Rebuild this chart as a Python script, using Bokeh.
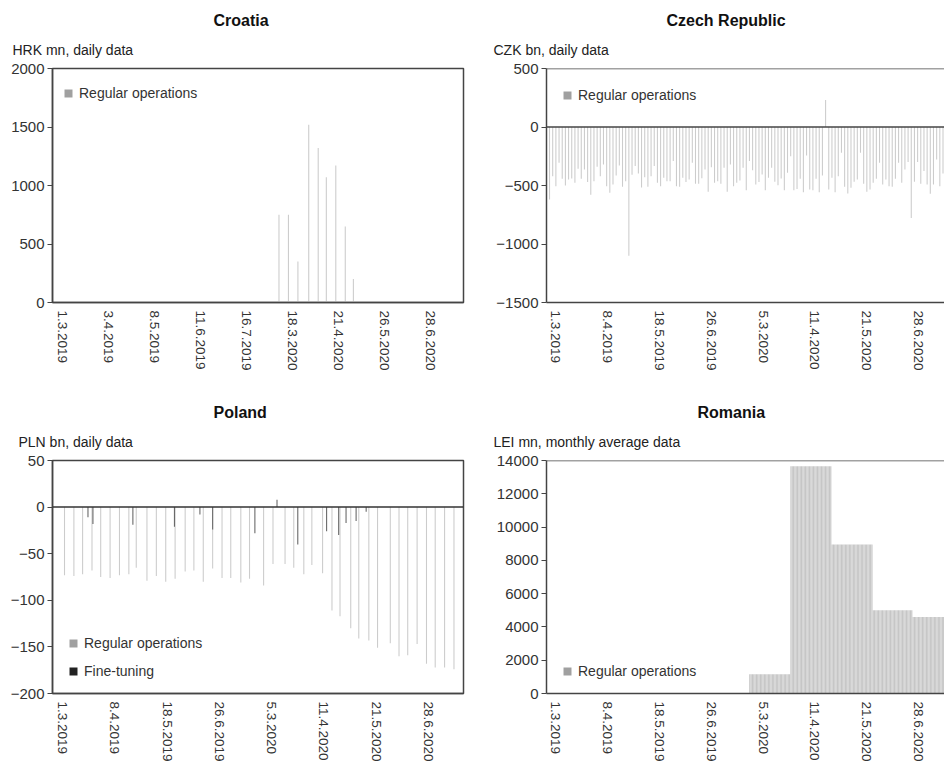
import numpy as np
from bokeh.plotting import figure
from bokeh.models import Range1d, FixedTicker, Span, Legend, LegendItem, Title
from bokeh.layouts import column, row
from bokeh.embed import file_html
from bokeh.resources import INLINE

FONT = "Liberation Sans"

# ---------------- data ----------------
# Croatia (HRK mn, daily data)
hr_tick_labels = ["1.3.2019", "3.4.2019", "8.5.2019", "11.6.2019", "16.7.2019",
                  "18.3.2020", "21.4.2020", "26.5.2020", "28.6.2020"]
hr_tick_step = 34
hr_day = [160, 167, 174, 182, 189, 195, 202, 209, 215]
hr_regular = [750, 750, 350, 1520, 1320, 1070, 1170, 650, 200]

# Czech Republic (CZK bn, daily data) - consecutive operations
cz_tick_labels = ["1.3.2019", "8.4.2019", "18.5.2019", "26.6.2019",
                  "5.3.2020", "11.4.2020", "21.5.2020", "28.6.2020"]
cz_tick_step = 39
cz_regular = [
    -620, -420, -506, -306, -443, -500, -449, -440, -477, -357, -443, -363, -471, -580, -463,
    -340, -420, -320, -506, -563, -491, -414, -329, -511, -463, -1100, -409, -334, -397, -517,
    -429, -511, -420, -334, -477, -506, -434, -463, -463, -291, -506, -511, -434, -471, -449,
    -306, -486, -486, -437, -363, -554, -343, -477, -463, -486, -349, -554, -320, -506, -477,
    -457, -349, -540,
    -291, -369, -491, -471, -406, -540, -434, -349, -469, -497, -440, -540, -391, -249, -540,
    -529, -443, -557, -243, -534, -540, -443, -557, -414, 230, -534, -434, -557, -420, -220,
    -511, -569, -520, -469, -449, -220, -486, -554, -534, -477, -443, -306, -491, -449, -506,
    -511, -443, -306, -477, -363, -300, -777, -469, -300, -486, -377, -491, -571, -491, -277,
    -506, -397]
cz_first_day, cz_last_day = -4.8, 291.5

# Poland (PLN bn, daily data)
pl_tick_labels = cz_tick_labels
pl_tick_step = 39
pl_regular_day = [1.5, 8.5, 15, 22, 28.5, 35.5, 42.5, 49.5, 55, 63, 70, 77, 84, 91.5, 98, 105,
                  112, 119, 125.5, 133, 139.5, 150, 157, 166, 172.5, 180, 186, 194, 201, 207,
                  215, 221, 228.5, 235, 244.5, 251, 257.5, 264.5, 271.5, 278, 285, 292]
pl_regular = [-73, -74, -72, -68, -75, -76, -73, -72, -65, -79, -74, -80, -77, -69, -68, -80,
              -66, -76, -76, -81, -77, -84, -61, -61, -65, -72, -62, -71, -111, -117,
              -130, -141, -143, -151, -146, -160, -159, -147, -168, -172, -172, -174]
pl_fine_day = [19, 22.7, 52.5, 83.5, 102.5, 112, 143.5, 160, 175.5, 197, 206, 211.5, 219, 226.5]
pl_fine = [-11, -18, -19, -21, -8, -24, -28, 8, -40, -26, -30, -17, -15, -5]

# Romania (LEI mn, monthly average data)
ro_tick_labels = cz_tick_labels
ro_tick_step = 39
ro_month_avg = [1150, 13650, 8950, 5000, 4600]
ro_month_days = [31, 31, 31, 30, 24]
ro_first_day = 146

# ---------------- helpers ----------------
GRID_C = "#444444"
TXT_C = "#333333"
BAR_C = "#cccccc"
LEG_C = "#a0a0a0"


def make_fig(title, subtitle, xr, yr, yticks, tick_labels, tick_step, frame_w, frame_h,
             b_left, b_right, b_top, b_bottom, title_off, sub_off, full_box=True):
    p = figure(frame_width=frame_w, frame_height=frame_h,
               x_range=Range1d(*xr), y_range=Range1d(*yr),
               output_backend="svg", toolbar_location=None,
               min_border_left=b_left, min_border_right=b_right,
               min_border_top=b_top, min_border_bottom=b_bottom,
               background_fill_color="white", border_fill_color="white")
    p.grid.visible = False
    if full_box:
        p.outline_line_color = GRID_C
        p.outline_line_width = 1.5
    else:
        p.outline_line_color = None
        p.add_layout(Span(location=yr[1], dimension="width", line_color=GRID_C, line_width=1.5))
    tick_pos = [i * tick_step for i in range(len(tick_labels))]
    p.xaxis.ticker = FixedTicker(ticks=tick_pos)
    p.xaxis.major_label_overrides = {t: lab for t, lab in zip(tick_pos, tick_labels)}
    p.xaxis.major_label_orientation = "vertical"
    p.xaxis.major_tick_line_color = None
    p.xaxis.major_tick_out = 0
    p.xaxis.major_tick_in = 0
    p.xaxis.minor_tick_line_color = None
    p.xaxis.major_label_standoff = 8
    p.xaxis.major_label_text_font_size = "13.5px"
    p.yaxis.ticker = FixedTicker(ticks=yticks)
    p.yaxis.major_tick_out = 5
    p.yaxis.major_tick_in = 0
    p.yaxis.major_tick_line_color = GRID_C
    p.yaxis.major_tick_line_width = 1.2
    p.yaxis.minor_tick_line_color = None
    p.yaxis.major_label_standoff = 3
    p.yaxis.major_label_text_font_size = "15px"
    for ax in (p.xaxis, p.yaxis):
        ax.axis_line_color = GRID_C
        ax.axis_line_width = 1.5
        ax.major_label_text_font = FONT
        ax.major_label_text_color = TXT_C
    p.add_layout(Title(text=subtitle, align="left", offset=sub_off, text_font=FONT,
                       text_font_size="14px", text_font_style="normal", text_color="#222222",
                       standoff=22), "above")
    p.add_layout(Title(text=title, align="left", offset=title_off, text_font=FONT,
                       text_font_size="16px", text_font_style="bold", text_color="#111111",
                       standoff=0), "above")
    return p


def add_legend(p, entries, loc, spacing=12):
    items = []
    for label, color in entries:
        r = p.vbar(x=[np.nan], top=[np.nan], width=1, fill_color=color, line_color=None)
        items.append(LegendItem(label=label, renderers=[r]))
    lg = Legend(items=items, location=loc, border_line_color=None, background_fill_alpha=0,
                padding=0, margin=0, spacing=spacing, glyph_width=10, glyph_height=10,
                label_height=10, label_standoff=6, label_text_font=FONT,
                label_text_font_size="14px", label_text_color=TXT_C)
    p.add_layout(lg)


# ---------------- Croatia ----------------
hr_px = 46 / hr_tick_step
p1 = make_fig("Croatia", "HRK mn, daily data", (-10 / hr_px, 401 / hr_px), (0, 2000),
              [0, 500, 1000, 1500, 2000], hr_tick_labels, hr_tick_step, 411, 234,
              52, 10, 68, 79, 161, -40, True)
p1.vbar(x=hr_day, top=hr_regular, width=0.8, fill_color=BAR_C, line_color=None)
add_legend(p1, [("Regular operations", LEG_C)], (11, 201))

# ---------------- Czech Republic ----------------
cz_px = 51.75 / cz_tick_step
p2 = make_fig("Czech Republic", "CZK bn, daily data", (-9.4 / cz_px, 388.3 / cz_px), (-1500, 500),
              [-1500, -1000, -500, 0, 500], cz_tick_labels, cz_tick_step, 398, 234,
              73, 0, 68, 79, 120, -53, False)
cz_day = np.linspace(cz_first_day, cz_last_day, len(cz_regular))
p2.vbar(x=cz_day, top=cz_regular, bottom=0, width=0.8, fill_color=BAR_C, line_color=None)
p2.add_layout(Span(location=0, dimension="width", line_color=GRID_C, line_width=1.5))
add_legend(p2, [("Regular operations", LEG_C)], (16, 199))

# ---------------- Poland ----------------
pl_px = 366 / (7 * pl_tick_step)
p3 = make_fig("Poland", "PLN bn, daily data", (-10 / pl_px, 401 / pl_px), (-200, 50),
              [-200, -150, -100, -50, 0, 50], pl_tick_labels, pl_tick_step, 411, 233,
              52, 10, 79, 0, 161, -34, True)
p3.vbar(x=pl_regular_day, top=pl_regular, bottom=0, width=0.8, fill_color=BAR_C, line_color=None)
p3.vbar(x=pl_fine_day, top=pl_fine, bottom=0, width=0.8, fill_color="#666666", line_color=None)
p3.add_layout(Span(location=0, dimension="width", line_color="#333333", line_width=1.5))
add_legend(p3, [("Regular operations", LEG_C), ("Fine-tuning", "#222222")], (16, 14), spacing=12)

# ---------------- Romania ----------------
p4 = make_fig("Romania", "LEI mn, monthly average data", (-9.4 / cz_px, 388.3 / cz_px), (0, 14000),
              list(range(0, 14001, 2000)), ro_tick_labels, ro_tick_step, 398, 233,
              73, 0, 79, 0, 151, -53, False)
ro_vals = np.repeat(ro_month_avg, ro_month_days)
ro_day = ro_first_day + np.arange(len(ro_vals))
p4.vbar(x=ro_day, top=ro_vals, bottom=0, width=0.88, fill_color="#c6c6c6", line_color=None)
add_legend(p4, [("Regular operations", LEG_C)], (16, 14))

layout = column(row(p1, p2), row(p3, p4))
open("out.html", "w").write(file_html(layout, INLINE))
